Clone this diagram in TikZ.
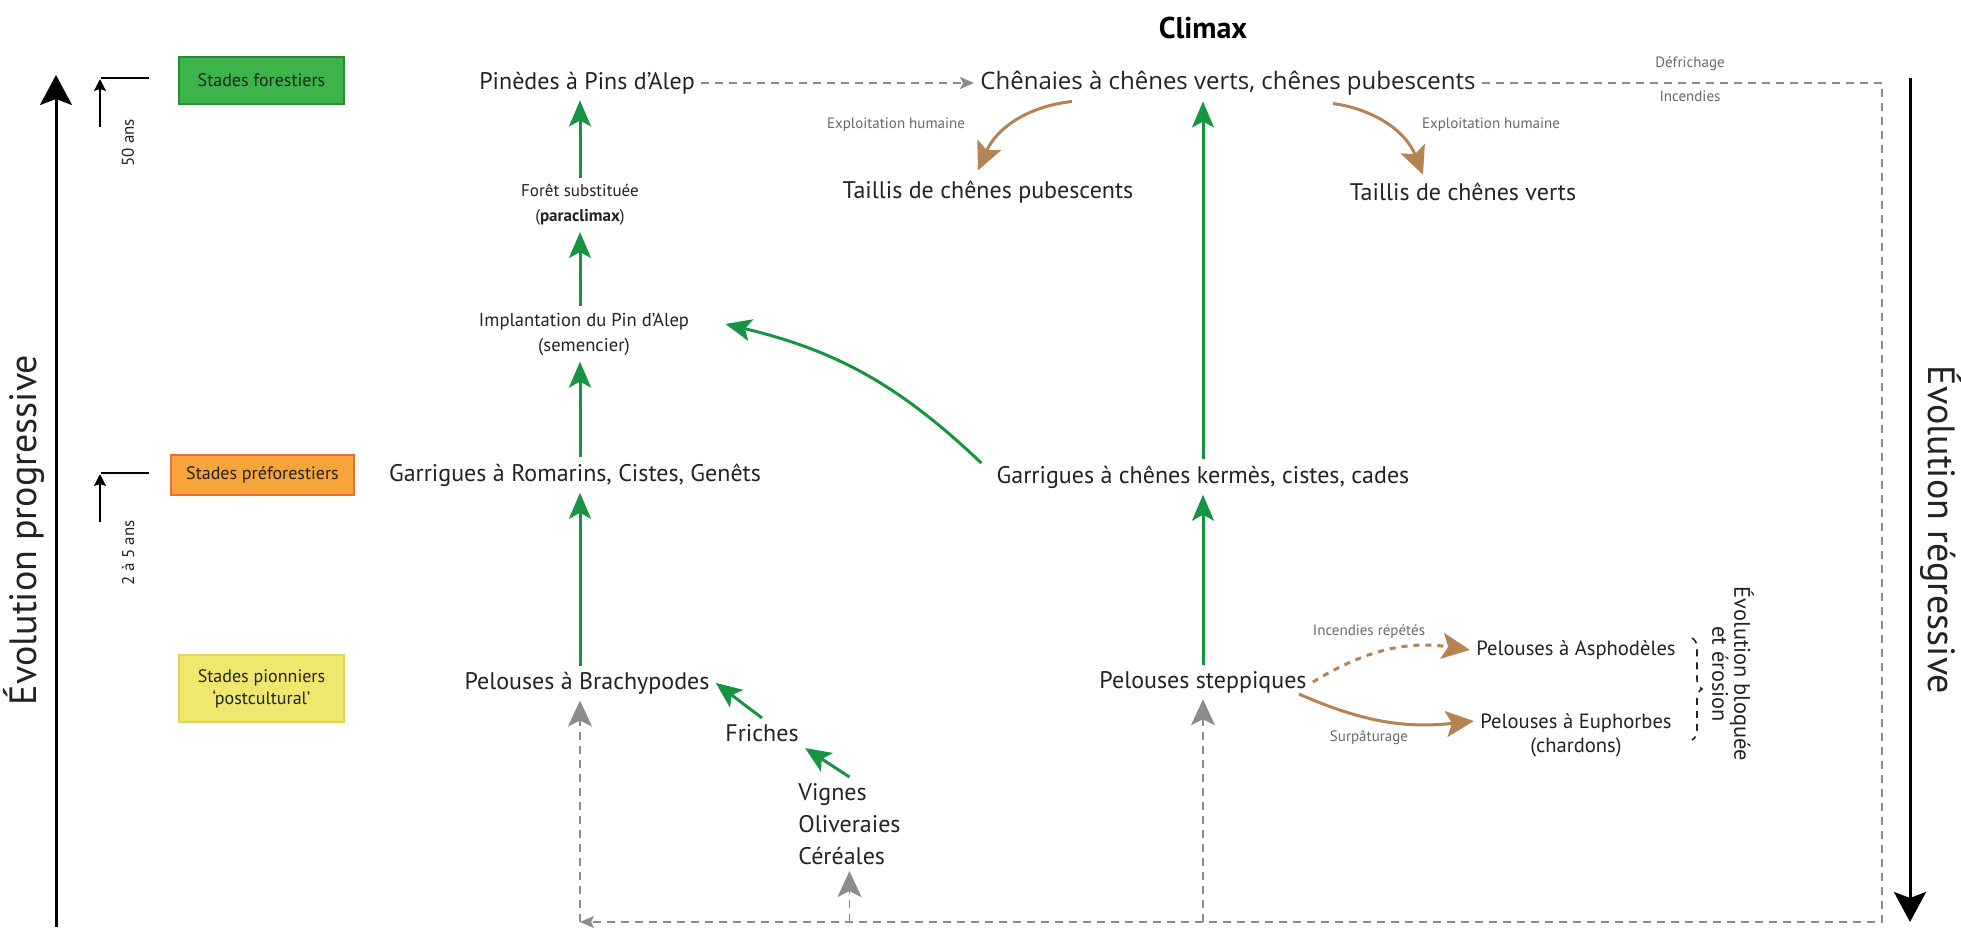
\documentclass[tikz,border=0pt]{standalone}
\usepackage{fontspec}
\setmainfont{PT Sans}
\newfontfamily\chenfont{Open Sans}
\usetikzlibrary{arrows.meta,calc,decorations.pathreplacing}
\definecolor{vert}{RGB}{22,148,66}
\definecolor{brun}{RGB}{181,132,82}
\definecolor{gris}{RGB}{140,140,140}
\definecolor{grislab}{RGB}{105,105,105}
\definecolor{txt}{RGB}{35,35,35}
\definecolor{boxgreen}{RGB}{60,180,74}
\definecolor{boxgreenb}{RGB}{40,140,55}
\definecolor{boxorange}{RGB}{247,164,58}
\definecolor{boxorangeb}{RGB}{232,110,50}
\definecolor{boxyellow}{RGB}{238,232,110}
\definecolor{boxyellowb}{RGB}{225,215,80}
\tikzset{
  main/.style={font=\fontsize{12}{16}\selectfont, text=txt, inner sep=3pt},
  small/.style={font=\fontsize{8.5}{12.5}\selectfont, align=center, text=txt, inner sep=3pt},
  lab/.style={font=\fontsize{7.5}{9}\selectfont, text=grislab, inner sep=1pt},
  stage/.style={draw, line width=0.6pt, font=\fontsize{9}{11}\selectfont, align=center, text=txt, inner sep=0pt},
  garrow/.style={vert, line width=1.5pt, -{Stealth[length=13pt,width=11pt,inset=3pt]}},
  barrow/.style={brun, line width=1.5pt, -{Stealth[length=14pt,width=13pt,inset=3pt]}},
  gdash/.style={gris, line width=0.8pt, dash pattern=on 4pt off 3pt},
  gtip/.style={-{Stealth[length=13pt,width=12pt,inset=3pt]}},
  stip/.style={-{Stealth[length=7pt,width=6pt,inset=1.5pt]}},
  bigarrow/.style={black, line width=1.5pt, -{Stealth[length=15pt,width=16pt,inset=3pt]}},
  tinyarrow/.style={black, line width=0.8pt, -{Stealth[length=6pt,width=6pt,inset=1pt]}}
}
\begin{document}
\begin{tikzpicture}[x=0.5pt,y=-0.5pt]
\useasboundingbox (0,0) rectangle (1961,927);
\fill[white] (0,0) rectangle (1961,927);

% stage boxes
\node[stage, fill=boxgreen, draw=boxgreenb, minimum width=82.5pt, minimum height=23.5pt] (sf) at (261.5,80.5) {Stades forestiers};
\node[stage, fill=boxorange, draw=boxorangeb, minimum width=91.5pt, minimum height=20pt] (spf) at (262.5,475) {Stades préforestiers};
\node[stage, fill=boxyellow, draw=boxyellowb, minimum width=82.5pt, minimum height=33.5pt] (spi) at (261.5,688.5) {Stades pionniers\\‘postcultural’};

% time ticks
\coordinate (t1a) at (101,78); \coordinate (t1b) at (149,78);
\coordinate (t1s) at (100,127); \coordinate (t1e) at (100,79);
\draw[black, line width=0.8pt] (t1a) -- (t1b);
\draw[tinyarrow] (t1s) -- (t1e);
\node[font=\fontsize{8.5}{10}\selectfont, rotate=90, text=txt] (ans50) at (128,143) {50 ans};
\coordinate (t2a) at (101,473); \coordinate (t2b) at (149,473);
\coordinate (t2s) at (100,522); \coordinate (t2e) at (100,474);
\draw[black, line width=0.8pt] (t2a) -- (t2b);
\draw[tinyarrow] (t2s) -- (t2e);
\node[font=\fontsize{8.5}{10}\selectfont, rotate=90, text=txt] (ans25) at (128,553) {2 à 5 ans};

% big axes
\coordinate (lb) at (56,927); \coordinate (lt) at (56,75);
\draw[bigarrow] (lb) -- (lt);
\node[font=\fontsize{19}{21}\selectfont, rotate=90, text=txt] (evp) at (24,530) {Évolution progressive};
\coordinate (rt) at (1910,78); \coordinate (rb) at (1910,922);
\draw[bigarrow] (rt) -- (rb);
\node[font=\fontsize{19}{21}\selectfont, rotate=-90, text=txt] (evr) at (1941,530) {Évolution régressive};

% main nodes
\node[font=\fontsize{15}{18}\selectfont\bfseries, text=black] (climax) at (1203,28) {Climax};
\node[main] (pin) at (587,83) {Pinèdes à Pins d’Alep};
\node[main, font=\chenfont\fontsize{12}{16}\selectfont] (chen) at (1228,83) {Chênaies à chênes verts, chênes pubescents};
\node[main] (tp) at (988,192) {Taillis de chênes pubescents};
\node[main] (tv) at (1463,192) {Taillis de chênes verts};
\node[small] (foret) at (580,205) {Forêt substituée\\(\textbf{paraclimax})};
\node[small, font=\fontsize{9.3}{12.5}\selectfont] (impl) at (584,334) {Implantation du Pin d’Alep\\(semencier)};
\node[main] (gr) at (575,475) {Garrigues à Romarins, Cistes, Genêts};
\node[main] (gk) at (1203,477) {Garrigues à chênes kermès, cistes, cades};
\node[main] (pb) at (587,683) {Pelouses à Brachypodes};
\node[main] (ps) at (1203,682) {Pelouses steppiques};
\node[main] (fr) at (762,733) {Friches};
\node[main, align=left, anchor=north west] (vig) at (792,777) {Vignes\\Oliveraies\\Céréales};
\node[small, font=\fontsize{10.3}{12}\selectfont] (pa) at (1576,650) {Pelouses à Asphodèles};
\node[small, font=\fontsize{10.3}{12}\selectfont] (pe) at (1576,735) {Pelouses à Euphorbes\\(chardons)};
\node[small, font=\fontsize{11.2}{11}\selectfont, rotate=-90] (eb) at (1733,674) {Évolution bloquée\\et érosion};

% labels
\node[lab] (ex1) at (896,125) {Exploitation humaine};
\node[lab] (ex2) at (1491,125) {Exploitation humaine};
\node[lab] (def) at (1690,64) {Défrichage};
\node[lab] (inc) at (1690,96) {Incendies};
\node[lab] (ir) at (1369,632) {Incendies répétés};
\node[lab] (sp) at (1369,738) {Surpâturage};

% green progression
\draw[garrow] (foret.north) -- (foret.north |- pin.south);
\draw[garrow] (foret.south |- impl.north) -- (foret.south);
\draw[garrow] (foret.south |- gr.north) -- (foret.south |- impl.south);
\draw[garrow] (foret.south |- pb.north) -- (foret.south |- gr.south);
\draw[garrow] (gk.north) -- (gk.north |- chen.south);
\draw[garrow] (ps.north) -- (gk.south);
\draw[garrow] ($(gk.west)+(-9,-14)$) to[bend right=15] ($(impl.east)+(30,-10)$);
\draw[garrow] (fr.north) -- (pb.east);
\draw[garrow] (vig.north) -- (fr.south east);

% grey dashed
\coordinate (cTR) at (1882,83);
\coordinate (cBR) at (1882,922);
\coordinate (cBL) at (580,922);
\draw[gdash, stip] (pin.east) -- (chen.west);
\draw[gdash, stip] (chen.east) -- (cTR) -- (cBR) -- (cBL);
\draw[gdash, gtip] (cBL) -- (cBL |- pb.south);
\draw[gdash, gtip] (cBL -| vig.south) -- (vig.south);
\draw[gdash, gtip] (cBL -| ps.south) -- (ps.south);

% brown
\draw[barrow] ($(chen.south)+(-156,0)$) to[bend right=30] ($(tp.north)+(-10,-4)$);
\draw[barrow] ($(chen.south)+(105,2)$) to[bend left=30] ($(tv.north)+(-40,-2)$);
\draw[barrow, dash pattern=on 3pt off 3pt] (ps.east) to[bend left=20] (pa.west);
\draw[barrow] ($(ps.east)+(-14,12)$) to[bend right=15] ($(pe.west)+(0,-14)$);

% brace
\coordinate (bt) at (1692,638); \coordinate (bb) at (1692,740);
\draw[txt, line width=0.8pt, dash pattern=on 3.5pt off 3pt, decorate, decoration={brace, amplitude=5pt}] (bt) -- (bb);
\end{tikzpicture}
\end{document}
